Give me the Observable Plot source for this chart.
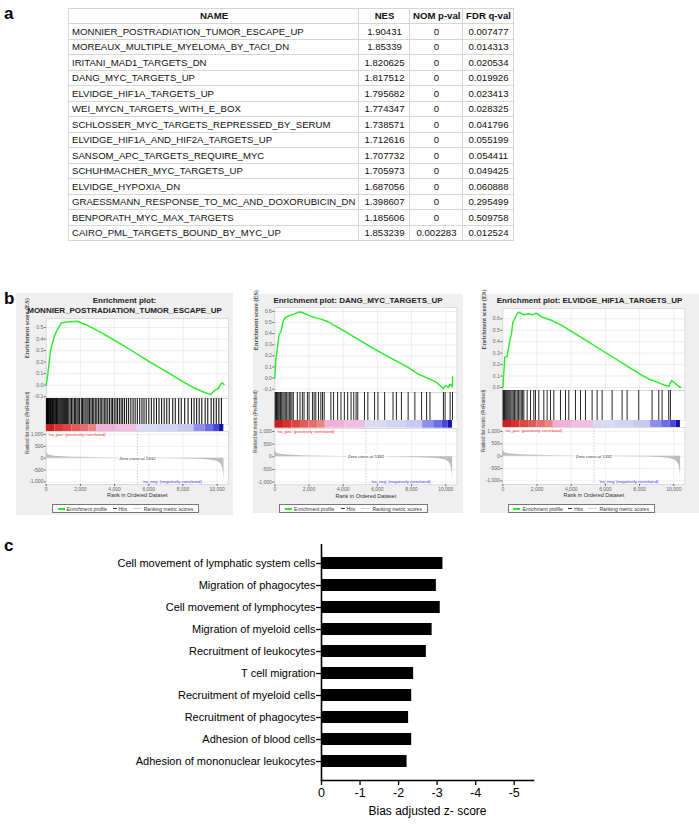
<!DOCTYPE html>
<html><head><meta charset="utf-8">
<script src="https://cdn.jsdelivr.net/npm/d3@7"></script>
<script src="https://cdn.jsdelivr.net/npm/@observablehq/plot@0.6"></script>
<style>
body{margin:0;background:#fff;font-family:"Liberation Sans",Arial,sans-serif;}
#root{position:relative;width:699px;height:825px;overflow:hidden;background:#fff;}
table.gs{position:absolute;left:68px;top:8px;width:445px;border-collapse:collapse;table-layout:fixed;font:9.6px "Liberation Sans",Arial,sans-serif;color:#111;}
table.gs td,table.gs th{border:1px solid #d6d6d6;height:15.47px;box-sizing:border-box;padding:0 2px 0 3px;line-height:1;white-space:nowrap;overflow:hidden;}
table.gs th{font-weight:bold;text-align:center;}
table.gs td{text-align:center;}
table.gs td.nm{text-align:left;}
.plab{position:absolute;font:bold 17px "Liberation Sans",Arial,sans-serif;line-height:1;}
</style></head>
<body><div id="root"></div>
<script>
// ---------------- DATA ----------------
// Panel a: table
const tableHeader = ["NAME", "NES", "NOM p-val", "FDR q-val"];
const geneSets = [
  "MONNIER_POSTRADIATION_TUMOR_ESCAPE_UP",
  "MOREAUX_MULTIPLE_MYELOMA_BY_TACI_DN",
  "IRITANI_MAD1_TARGETS_DN",
  "DANG_MYC_TARGETS_UP",
  "ELVIDGE_HIF1A_TARGETS_UP",
  "WEI_MYCN_TARGETS_WITH_E_BOX",
  "SCHLOSSER_MYC_TARGETS_REPRESSED_BY_SERUM",
  "ELVIDGE_HIF1A_AND_HIF2A_TARGETS_UP",
  "SANSOM_APC_TARGETS_REQUIRE_MYC",
  "SCHUHMACHER_MYC_TARGETS_UP",
  "ELVIDGE_HYPOXIA_DN",
  "GRAESSMANN_RESPONSE_TO_MC_AND_DOXORUBICIN_DN",
  "BENPORATH_MYC_MAX_TARGETS",
  "CAIRO_PML_TARGETS_BOUND_BY_MYC_UP"
];
const nesValues = ["1.90431","1.85339","1.820625","1.817512","1.795682","1.774347","1.738571","1.712616","1.707732","1.705973","1.687056","1.398607","1.185606","1.853239"];
const nomPValues = ["0","0","0","0","0","0","0","0","0","0","0","0","0","0.002283"];
const fdrQValues = ["0.007477","0.014313","0.020534","0.019926","0.023413","0.028325","0.041796","0.055199","0.054411","0.049425","0.060888","0.295499","0.509758","0.012524"];

// Panel b: GSEA enrichment plots
const rankTicks = [0, 2000, 4000, 6000, 8000, 10000];
const metricTicks = [1000, 500, 0, -500, -1000];
const zeroCross = 5332;
const metricRanks  = [0, 20, 60, 120, 250, 500, 1000, 1500, 2000, 3000, 4000, 5332, 6500, 7500, 8500, 9200, 9700, 10000, 10200, 10300, 10360, 10390, 10400];
const metricValues = [420, 260, 190, 140, 110, 85, 60, 45, 35, 20, 10, 0, -10, -20, -35, -55, -85, -130, -220, -350, -550, -800, -1000];
const colorBarEdges  = [0, 500, 1000, 1500, 2000, 2500, 2950, 4100, 5330, 6500, 7700, 8650, 9300, 9800, 10150, 10400];
const colorBarLevels = [7, 6, 5, 4, 3, 2, 1, 0, -1, -2, -3, -4, -5, -6, -7];

const esTitles = [
  ["Enrichment plot:", "MONNIER_POSTRADIATION_TUMOR_ESCAPE_UP"],
  ["Enrichment plot: DANG_MYC_TARGETS_UP"],
  ["Enrichment plot: ELVIDGE_HIF1A_TARGETS_UP"]
];
const esMonnierRanks  = [0, 97, 252, 446, 640, 893, 1223, 1806, 2388, 3165, 4136, 5107, 6078, 7049, 8019, 8602, 9184, 9612, 9864, 10058, 10213, 10300, 10400];
const esMonnierScores = [0, 0.10, 0.30, 0.41, 0.48, 0.54, 0.548, 0.554, 0.52, 0.46, 0.377, 0.29, 0.20, 0.116, 0.029, -0.02, -0.058, -0.081, -0.043, -0.03, 0.009, 0.02, 0.005];
const esDangRanks  = [0, 59, 137, 235, 373, 491, 628, 825, 1120, 1414, 1611, 1905, 2200, 2691, 3084, 3870, 4852, 5834, 6816, 7798, 8387, 8976, 9467, 9860, 9997, 10155, 10253, 10390, 10400];
const esDangScores = [0, 0.171, 0.246, 0.381, 0.426, 0.516, 0.546, 0.561, 0.576, 0.597, 0.591, 0.570, 0.552, 0.531, 0.510, 0.441, 0.351, 0.261, 0.177, 0.096, 0.036, -0.003, -0.039, -0.094, -0.069, -0.084, -0.054, -0.078, 0.012];
const esElvidgeRanks  = [0, 58, 117, 253, 312, 409, 507, 585, 702, 838, 936, 1228, 1520, 1715, 1949, 2300, 2885, 3470, 4250, 5029, 5809, 6589, 7368, 8148, 8635, 9025, 9415, 9708, 9864, 10000, 10292, 10400];
const esElvidgeScores = [0, 0.12, 0.265, 0.27, 0.323, 0.41, 0.469, 0.57, 0.60, 0.644, 0.658, 0.635, 0.644, 0.635, 0.649, 0.614, 0.585, 0.541, 0.469, 0.396, 0.323, 0.251, 0.178, 0.105, 0.067, 0.047, 0.023, 0.009, 0.061, 0.047, 0.009, 0.0];

const hitsMonnier = [10, 40, 70, 100, 130, 170, 210, 250, 290, 330, 370, 410, 450, 500, 550, 600, 650, 700, 760, 820, 880, 940, 1000, 1060, 1120, 1180, 1250, 1320, 1400, 1480,
  1560, 1650, 1720, 1800, 1870, 1950, 2050, 2120, 2200, 2280, 2380, 2450, 2530, 2620, 2700, 2780, 2870, 2960, 3050, 3150, 3220, 3320, 3420, 3500, 3600, 3700, 3800, 3880, 3980,
  4080, 4170, 4280, 4380, 4470, 4580, 4700, 4820, 4950, 5080, 5200, 5330, 5470, 5600, 5720, 5850, 6000, 6150, 6300, 6450, 6600, 6750, 6900, 7050, 7200, 7400, 7550, 7750,
  7900, 8100, 8300, 8500, 8650, 8800, 8950, 9100, 9300, 9450, 9650, 9800, 9950, 10100, 10250];
const hitsDang = [20, 60, 100, 150, 200, 260, 330, 400, 470, 540, 610, 690, 770, 850, 930, 1000, 1080, 1316, 1473, 1610, 1709, 1905, 2004, 2200, 2298, 2397, 2554, 2691, 2790, 2888,
  3281, 3438, 3674, 3870, 4067, 4263, 4460, 4617, 4754, 4852, 5245, 5442, 5835, 6031, 6424, 6915, 7112, 7407, 7800, 8193, 8585, 8880, 9077, 9862, 9961, 10255, 10393];
const hitsElvidge = [15, 50, 90, 130, 180, 230, 290, 350, 410, 470, 540, 610, 680, 760, 840, 920, 1000, 1080, 1160, 1230, 1423, 1618, 1813, 1910, 2105, 2398, 2593, 2788, 2983,
  3372, 3665, 3860, 4250, 4542, 4834, 5224, 5517, 5809, 6394, 6979, 7271, 7953, 8733, 9123, 9318, 9708, 9805];

const legendLabels = ["Enrichment profile", "Hits", "Ranking metric scores"];
const posLabel = "'na_pos' (positively correlated)";
const negLabel = "'na_neg' (negatively correlated)";
const zeroLabel = "Zero cross at 5332";

// Panel c: bar chart
const functionNames = [
  "Cell movement of lymphatic system cells",
  "Migration of phagocytes",
  "Cell movement of lymphocytes",
  "Migration of myeloid cells",
  "Recruitment of leukocytes",
  "T cell migration",
  "Recruitment of myeloid cells",
  "Recruitment of phagocytes",
  "Adhesion of blood cells",
  "Adhesion of mononuclear leukocytes"
];
const zScores = [-3.15, -2.98, -3.08, -2.87, -2.72, -2.39, -2.34, -2.26, -2.34, -2.22];
const zTicks = [0, -1, -2, -3, -4, -5];
const zAxisTitle = "Bias adjusted z- score";

// ---------------- RENDER ----------------
const root = document.getElementById("root");
const SANS = "'Liberation Sans', Arial, sans-serif";
function put(el, left, top) {
  el.style.position = "absolute";
  el.style.left = left + "px";
  el.style.top = top + "px";
  root.appendChild(el);
  return el;
}
function mkdiv(text, css) {
  const d = document.createElement("div");
  d.textContent = text;
  d.style.cssText = css;
  return d;
}

// panel letters
[["a", 4, 5], ["b", 4, 290], ["c", 4, 537]].forEach(([t, x, y]) => {
  const d = mkdiv(t, ""); d.className = "plab"; put(d, x, y);
});

// ---- Panel a: table
(function () {
  const tbl = document.createElement("table");
  tbl.className = "gs";
  const cg = document.createElement("colgroup");
  [290, 51, 53, 51].forEach(w => { const c = document.createElement("col"); c.style.width = w + "px"; cg.appendChild(c); });
  tbl.appendChild(cg);
  const hr = document.createElement("tr");
  tableHeader.forEach(h => { const th = document.createElement("th"); th.textContent = h; hr.appendChild(th); });
  tbl.appendChild(hr);
  geneSets.forEach((g, i) => {
    const tr = document.createElement("tr");
    [g, nesValues[i], nomPValues[i], fdrQValues[i]].forEach((v, j) => {
      const td = document.createElement("td");
      td.textContent = v;
      if (j === 0) td.className = "nm";
      tr.appendChild(td);
    });
    tbl.appendChild(tr);
  });
  root.appendChild(tbl);
})();

// ---- Panel b: GSEA plots
const XMAX = 10650, PPR = 0.0171;
const metricData = metricRanks.map((r, i) => ({rank: r, value: metricValues[i]}));
const colorBins = colorBarLevels.map((lv, i) => ({start: colorBarEdges[i], end: colorBarEdges[i + 1], level: lv}));
const cbColors = ["#cc2020", "#d63232", "#de4646", "#e35a5a", "#e76e6e", "#eb8282", "#f1b0d8", "#f3bde2",
                  "#dadaf5", "#d3d3f5", "#c8c8f3", "#8e8eee", "#6c6ce8", "#4646dc", "#1414b0"];
const fmtK = d => (d < 0 ? "-" : "") + d3.format(",")(Math.abs(d));

const layouts = [
  {box: {l: 16, t: 293, r: 233, b: 515}, x0: 45.7, titleY: [300, 310.7], hitW: 1.1,
   es: {top: 318.3, bottom: 398, zero: 385, ppu: 115.4, ticks: [-0.1, 0, 0.1, 0.2, 0.3, 0.4, 0.5]},
   hits: {top: 398, bottom: 424}, cbBottom: 431,
   m: {top: 431, bottom: 484, zero: 457.7, ppk: 23.7}, legend: {l: 52, t: 504, w: 147}},
  {box: {l: 253, t: 294, r: 463, b: 513}, x0: 274.3, titleY: [300], hitW: 0.95,
   es: {top: 306.7, bottom: 392, zero: 377.3, ppu: 111, ticks: [-0.1, 0, 0.1, 0.2, 0.3, 0.4, 0.5, 0.6]},
   hits: {top: 392, bottom: 420}, cbBottom: 427.7,
   m: {top: 427.7, bottom: 484, zero: 456, ppk: 25.3}, legend: {l: 279, t: 504, w: 149}},
  {box: {l: 480, t: 294, r: 699, b: 513}, x0: 502.3, titleY: [300], hitW: 0.95,
   es: {top: 308, bottom: 390, zero: 387, ppu: 114.5, ticks: [0, 0.1, 0.2, 0.3, 0.4, 0.5, 0.6]},
   hits: {top: 390, bottom: 420}, cbBottom: 427,
   m: {top: 427, bottom: 484, zero: 455.7, ppk: 24.7}, legend: {l: 507.7, t: 504, w: 147}}
];
const esSets = [
  [esMonnierRanks, esMonnierScores, hitsMonnier],
  [esDangRanks, esDangScores, hitsDang],
  [esElvidgeRanks, esElvidgeScores, hitsElvidge]
];

layouts.forEach((L, k) => {
  const [ranks, scores, hits] = esSets[k];
  const ml = L.x0 - L.box.l;
  const mr = 4;
  const W = ml + XMAX * PPR + mr;
  const st = {background: "transparent", fontFamily: SANS, overflow: "visible"};
  const common = {width: W, marginLeft: ml, marginRight: mr, style: st};
  const xNoAxis = {domain: [0, XMAX], axis: null};

  // background box
  const bg = document.createElement("div");
  bg.style.cssText = `width:${L.box.r - L.box.l}px;height:${L.box.b - L.box.t}px;background:#efefef;`;
  put(bg, L.box.l, L.box.t);

  // title
  esTitles[k].forEach((t, i) => {
    const d = mkdiv(t, `width:${L.box.r - L.box.l}px;text-align:center;font:bold 8px ${SANS};line-height:9px;color:#222;white-space:nowrap;`);
    put(d, L.box.l, L.titleY[i] - 4.5);
  });

  // ES plot
  const esTopVal = (L.es.zero - L.es.top) / L.es.ppu;
  const esBotVal = (L.es.zero - L.es.bottom) / L.es.ppu;
  const esData = ranks.map((r, i) => ({rank: r, es: scores[i]}));
  const esPlot = Plot.plot({
    ...common, height: L.es.bottom - L.es.top, marginTop: 0, marginBottom: 0,
    x: xNoAxis,
    y: {domain: [esBotVal, esTopVal]},
    marks: [
      Plot.frame({fill: "#fff", stroke: "#c8c8c8", strokeWidth: 0.6}),
      Plot.gridX(rankTicks, {stroke: "#e2e2e2", strokeOpacity: 1, strokeWidth: 0.6}),
      Plot.gridY(L.es.ticks, {stroke: "#e2e2e2", strokeOpacity: 1, strokeWidth: 0.6}),
      Plot.line(esData, {x: "rank", y: "es", stroke: "#22ee22", strokeWidth: 1.4}),
      Plot.axisY(L.es.ticks, {tickSize: 2, tickPadding: 1, fontSize: 5, color: "#666", tickFormat: d => d.toFixed(1), label: null}),
      Plot.text(["Enrichment score (ES)"], {frameAnchor: "left", dx: -19, rotate: -90, fontSize: 6.2, fontFamily: "'Liberation Serif', serif", fontWeight: "bold", fill: "#444"})
    ]
  });
  put(esPlot, L.box.l, L.es.top);

  // Hits plot
  const hitsPlot = Plot.plot({
    ...common, height: L.hits.bottom - L.hits.top, marginTop: 0, marginBottom: 0,
    x: xNoAxis,
    marks: [
      Plot.frame({fill: "#fff", stroke: "#c8c8c8", strokeWidth: 0.6}),
      Plot.ruleX(hits, {stroke: "#000", strokeWidth: L.hitW, strokeOpacity: 0.9})
    ]
  });
  put(hitsPlot, L.box.l, L.hits.top);

  // Color bar
  const cbPlot = Plot.plot({
    ...common, height: L.cbBottom - L.hits.bottom, marginTop: 0, marginBottom: 0,
    x: xNoAxis,
    color: {type: "ordinal", domain: colorBarLevels, range: cbColors},
    marks: [
      Plot.frame({fill: "#fff"}),
      Plot.barX(colorBins, {x1: "start", x2: "end", fill: "level"})
    ]
  });
  put(cbPlot, L.box.l, L.hits.bottom);

  // Metric plot
  const mTopVal = (L.m.zero - L.m.top) / L.m.ppk * 1000;
  const mBotVal = (L.m.zero - L.m.bottom) / L.m.ppk * 1000;
  const mPlot = Plot.plot({
    ...common, height: (L.m.bottom - L.m.top) + 20, marginTop: 0, marginBottom: 20,
    x: {domain: [0, XMAX]},
    y: {domain: [mBotVal, mTopVal]},
    marks: [
      Plot.frame({fill: "#fff", stroke: "#c8c8c8", strokeWidth: 0.6}),
      Plot.gridX(rankTicks, {stroke: "#e6e6e6", strokeOpacity: 1, strokeWidth: 0.6}),
      Plot.gridY(metricTicks, {stroke: "#e6e6e6", strokeOpacity: 1, strokeWidth: 0.6}),
      Plot.areaY(metricData, {x: "rank", y: "value", fill: "#bdbdbd"}),
      Plot.ruleX([zeroCross], {stroke: "#aaa", strokeWidth: 0.6, strokeDasharray: "1.5,1.5"}),
      Plot.text([zeroLabel], {x: () => zeroCross, y: () => 0, fontSize: 4.4, fill: "#333", stroke: "#fff", strokeWidth: 2.5}),
      Plot.text([posLabel], {frameAnchor: "top-left", dx: 2, dy: 1.5, lineAnchor: "top", fontSize: 4.3, fill: "#ff2a2a"}),
      Plot.text([negLabel], {x: () => zeroCross, frameAnchor: "bottom", dx: 5, dy: -1.5, lineAnchor: "bottom", textAnchor: "start", fontSize: 4.3, fill: "#3333ff"}),
      Plot.axisY(metricTicks, {tickSize: 2, tickPadding: 1, fontSize: 5, color: "#666", tickFormat: fmtK, label: null}),
      Plot.axisX(rankTicks, {tickSize: 2, tickPadding: 1, fontSize: 5, color: "#666", tickFormat: fmtK, label: null}),
      Plot.text(["Rank in Ordered Dataset"], {frameAnchor: "bottom", dy: 13, fontSize: 5.5, fill: "#333"}),
      Plot.text(["Ranked list metric (PreRanked)"], {frameAnchor: "left", dx: -19, dy: -4, rotate: -90, fontSize: 4.5, fill: "#444"})
    ]
  });
  put(mPlot, L.box.l, L.m.top);

  // Legend
  const lg = document.createElement("div");
  lg.style.cssText = `width:${L.legend.w}px;height:9px;border:0.8px solid #777;background:#fff;box-sizing:border-box;display:flex;align-items:center;justify-content:space-around;font:5px ${SANS};color:#333;white-space:nowrap;padding:0 2px;`;
  const sw = [["#22ee22", 2, 7], ["#333", 0.8, 4], ["#cfcfcf", 0.8, 9]];
  legendLabels.forEach((t, i) => {
    const item = document.createElement("span");
    item.style.cssText = "display:flex;align-items:center;";
    const s = document.createElement("span");
    s.style.cssText = `display:inline-block;width:${sw[i][2]}px;height:0;border-top:${sw[i][1]}px solid ${sw[i][0]};margin-right:2px;`;
    item.appendChild(s);
    item.appendChild(document.createTextNode(t));
    lg.appendChild(item);
  });
  put(lg, L.legend.l, L.legend.t);
});

// ---- Panel c: bar chart
(function () {
  const data = functionNames.map((n, i) => ({name: n, z: zScores[i]}));
  const chart = Plot.plot({
    width: 560, height: 291, marginLeft: 321, marginRight: 27, marginTop: 10, marginBottom: 45,
    style: {background: "transparent", fontFamily: SANS, overflow: "visible", color: "#000"},
    x: {domain: [0, -5.5]},
    y: {domain: functionNames, padding: 0.47},
    marks: [
      Plot.barX(data, {x: "z", y: "name", fill: "#000"}),
      Plot.ruleX([0], {stroke: "#000", strokeWidth: 1.6}),
      Plot.frame({anchor: "bottom", stroke: "#000", strokeWidth: 1.6}),
      Plot.axisY({tickSize: 5, tickPadding: 1, fontSize: 11, strokeWidth: 1.3, label: null}),
      Plot.axisX(zTicks, {tickSize: 5, tickPadding: 3, fontSize: 12.5, strokeWidth: 1.3, tickFormat: d => String(d), label: null}),
      Plot.text([zAxisTitle], {frameAnchor: "bottom", dy: 34, fontSize: 12, fill: "#000"})
    ]
  });
  put(chart, 0, 534);
})();
</script>
</body></html>
